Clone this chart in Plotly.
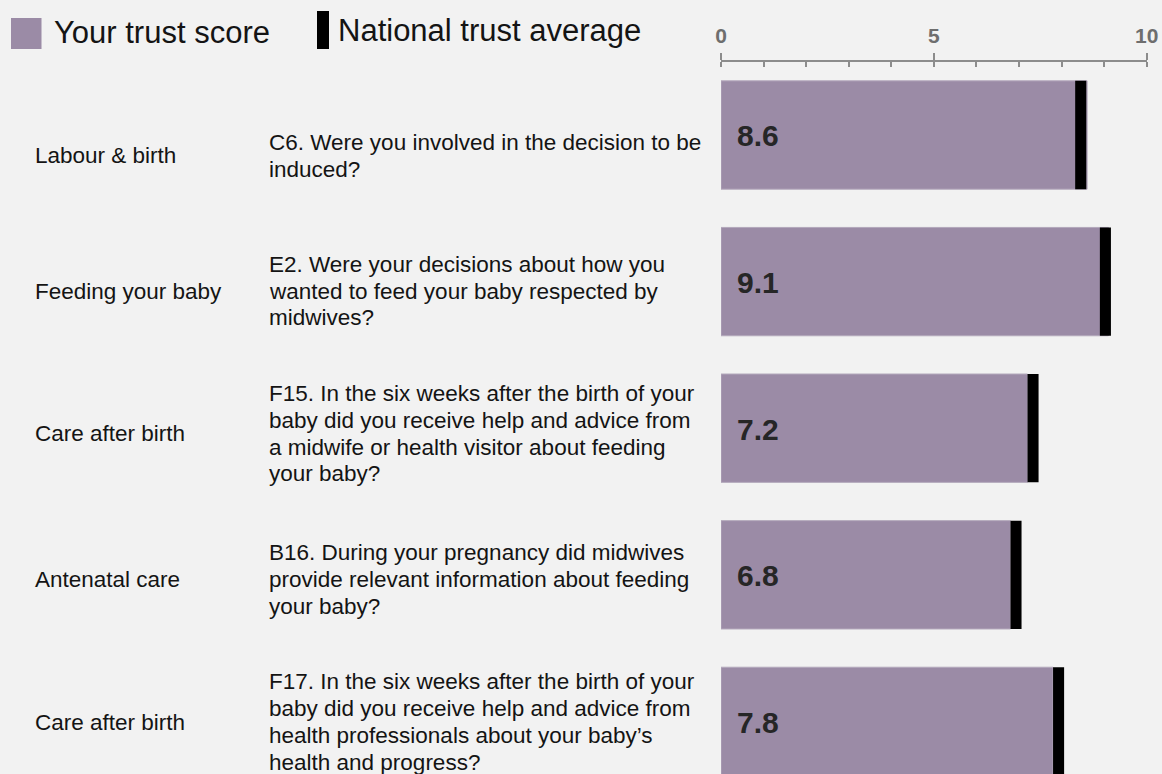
import plotly.graph_objects as go

# ---------------- data ----------------
codes = ["C6", "E2", "F15", "B16", "F17"]
sections = ["Labour & birth", "Feeding your baby", "Care after birth",
            "Antenatal care", "Care after birth"]
questions = [
    ["C6. Were you involved in the decision to be", "induced?"],
    ["E2. Were your decisions about how you",
     "wanted to feed your baby respected by", "midwives?"],
    ["F15. In the six weeks after the birth of your",
     "baby did you receive help and advice from",
     "a midwife or health visitor about feeding", "your baby?"],
    ["B16. During your pregnancy did midwives",
     "provide relevant information about feeding", "your baby?"],
    ["F17. In the six weeks after the birth of your",
     "baby did you receive help and advice from",
     "health professionals about your baby\u2019s", "health and progress?"],
]
scores = [8.6, 9.1, 7.2, 6.8, 7.8]
national = [8.45, 9.03, 7.33, 6.93, 7.93]
tick_values = [0, 5, 10]
legend_labels = ["Your trust score", "National trust average"]

# ---------------- layout helpers ----------------
W, H = 1162, 774
FONT = "Liberation Sans, Arial, sans-serif"
PURPLE = "#9b8ba6"
BG = "#f2f2f2"
MARK_W = 0.26           # width of the national-average marker (axis units)
LINE_SP = 26.7          # px between lines of question text
row_shift = [21, 9.7, 5.5, 4.5, 0.6]   # px the text row sits below bar centre


def px(x):
    return x / W


def py(y):
    return 1 - y / H


fig = go.Figure()
fig.add_trace(go.Bar(
    y=codes, x=scores, orientation="h", name=legend_labels[0],
    marker=dict(color=PURPLE, line=dict(color="#b3a8bb", width=1)),
    hoverinfo="x", showlegend=False,
))
fig.add_trace(go.Bar(
    y=codes, x=[MARK_W] * len(national),
    base=[n - MARK_W / 2 for n in national], orientation="h",
    name=legend_labels[1], marker=dict(color="#000000", line=dict(width=0)),
    xaxis="x2", showlegend=False, hoverinfo="skip",
))

annotations = []
for i, code in enumerate(codes):
    annotations.append(dict(
        x=0, y=code, xref="x", yref="y", text=f"{scores[i]:.1f}",
        showarrow=False, xanchor="left", yanchor="middle", xshift=14, yshift=-1,
        font=dict(family=FONT, size=30, color="#262626", weight="bold")))
    annotations.append(dict(
        x=px(32.5), y=code, xref="paper", yref="y", text=sections[i],
        showarrow=False, xanchor="left", yanchor="middle",
        yshift=-row_shift[i],
        font=dict(family=FONT, size=22.5, color="#141414")))
    n = len(questions[i])
    for j, line in enumerate(questions[i]):
        annotations.append(dict(
            x=px(266.5), y=code, xref="paper", yref="y", text=line,
            showarrow=False, xanchor="left", yanchor="middle",
            yshift=-(row_shift[i] + (j - (n - 1) / 2) * LINE_SP),
            font=dict(family=FONT, size=22.5, color="#141414")))

annotations.append(dict(
    x=px(51.5), y=py(32), xref="paper", yref="paper", text=legend_labels[0],
    showarrow=False, xanchor="left", yanchor="middle",
    font=dict(family=FONT, size=31, color="#141414")))
annotations.append(dict(
    x=px(336), y=py(30.5), xref="paper", yref="paper", text=legend_labels[1],
    showarrow=False, xanchor="left", yanchor="middle",
    font=dict(family=FONT, size=31, color="#141414")))

shapes = [
    dict(type="rect", xref="paper", yref="paper", x0=px(11), x1=px(41.5),
         y0=py(49), y1=py(18), fillcolor=PURPLE, line=dict(width=0)),
    dict(type="rect", xref="paper", yref="paper", x0=px(317), x1=px(329),
         y0=py(49), y1=py(11), fillcolor="#000000", line=dict(width=0)),
]

plot_top = 61.7
spacing = 146.6
y_bottom = -0.5 + (H - plot_top) / spacing

axis_col = "#8c8c8c"
fig.update_layout(
    template="none",
    width=W, height=H, autosize=False,
    margin=dict(l=0, r=0, t=0, b=0, pad=0, autoexpand=False),
    paper_bgcolor=BG, plot_bgcolor=BG,
    barmode="overlay", bargap=0.261,
    annotations=annotations, shapes=shapes,
    xaxis=dict(
        domain=[px(721), px(1146.7)], range=[0, 10], side="top",
        automargin=False,
        tickvals=tick_values, ticks="outside", ticklen=7, tickwidth=2,
        tickcolor=axis_col, showline=True, linecolor=axis_col, linewidth=2,
        showgrid=False, zeroline=False,
        tickfont=dict(family=FONT, size=21, color="#6e6e6e", weight="bold"),
        ticklabelstandoff=1,
        minor=dict(dtick=1, ticks="inside", ticklen=5, tickwidth=2,
                   tickcolor=axis_col, showgrid=False),
        fixedrange=True,
    ),
    xaxis2=dict(
        overlaying="x", matches="x", side="top", anchor="y",
        automargin=False,
        tickvals=tick_values, ticks="inside", ticklen=5, tickwidth=2,
        tickcolor=axis_col, showline=False, showticklabels=False,
        showgrid=False, zeroline=False,
    ),
    yaxis=dict(
        domain=[0, py(plot_top)], type="category", automargin=False,
        categoryorder="array", categoryarray=codes,
        range=[y_bottom, -0.5], showticklabels=False, showgrid=False,
        zeroline=False, showline=False, ticks="", fixedrange=True,
    ),
    hovermode=False,
)

fig.write_html("out.html")
